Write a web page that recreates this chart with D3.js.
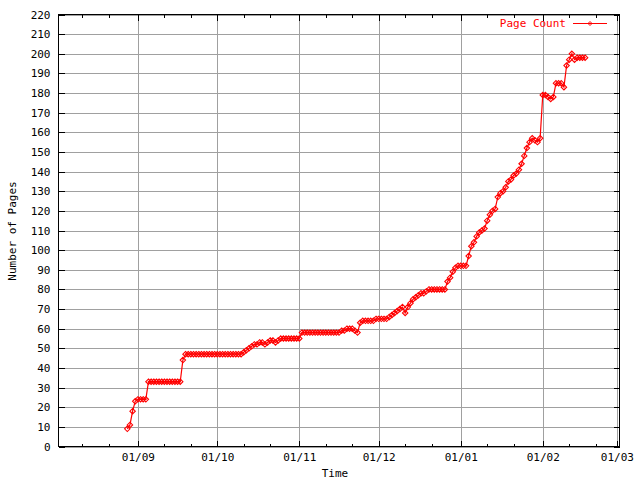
<!DOCTYPE html>
<html><head><meta charset="utf-8">
<script src="https://cdn.jsdelivr.net/npm/d3@7/dist/d3.min.js"></script>
<style>body{margin:0;background:#fff}svg{display:block}</style>
</head><body>
<svg id="c" width="640" height="480"></svg>
<script>
// ---- data ----
const dates = [
"2001-08-28","2001-08-29","2001-08-30","2001-08-31",
"2001-09-01","2001-09-02","2001-09-03","2001-09-04","2001-09-05","2001-09-06","2001-09-07","2001-09-08","2001-09-09","2001-09-10",
"2001-09-11","2001-09-12","2001-09-13","2001-09-14","2001-09-15","2001-09-16","2001-09-17","2001-09-18","2001-09-19","2001-09-20",
"2001-09-21","2001-09-22","2001-09-23","2001-09-24","2001-09-25","2001-09-26","2001-09-27","2001-09-28","2001-09-29","2001-09-30",
"2001-10-01","2001-10-02","2001-10-03","2001-10-04","2001-10-05","2001-10-06","2001-10-07","2001-10-08","2001-10-09","2001-10-10",
"2001-10-11","2001-10-12","2001-10-13","2001-10-14","2001-10-15","2001-10-16","2001-10-17","2001-10-18","2001-10-19","2001-10-20",
"2001-10-21","2001-10-22","2001-10-23","2001-10-24","2001-10-25","2001-10-26","2001-10-27","2001-10-28","2001-10-29","2001-10-30","2001-10-31",
"2001-11-01","2001-11-02","2001-11-03","2001-11-04","2001-11-05","2001-11-06","2001-11-07","2001-11-08","2001-11-09","2001-11-10",
"2001-11-11","2001-11-12","2001-11-13","2001-11-14","2001-11-15","2001-11-16","2001-11-17","2001-11-18","2001-11-19","2001-11-20",
"2001-11-21","2001-11-22","2001-11-23","2001-11-24","2001-11-25","2001-11-26","2001-11-27","2001-11-28","2001-11-29","2001-11-30",
"2001-12-01","2001-12-02","2001-12-03","2001-12-04","2001-12-05","2001-12-06","2001-12-07","2001-12-08","2001-12-09","2001-12-10",
"2001-12-11","2001-12-12","2001-12-13","2001-12-14","2001-12-15","2001-12-16","2001-12-17","2001-12-18","2001-12-19","2001-12-20",
"2001-12-21","2001-12-22","2001-12-23","2001-12-24","2001-12-25","2001-12-26","2001-12-27","2001-12-28","2001-12-29","2001-12-30","2001-12-31",
"2002-01-01","2002-01-02","2002-01-03","2002-01-04","2002-01-05","2002-01-06","2002-01-07","2002-01-08","2002-01-09","2002-01-10",
"2002-01-11","2002-01-12","2002-01-13","2002-01-14","2002-01-15","2002-01-16","2002-01-17","2002-01-18","2002-01-19","2002-01-20",
"2002-01-21","2002-01-22","2002-01-23","2002-01-24","2002-01-25","2002-01-26","2002-01-27","2002-01-28","2002-01-29","2002-01-30","2002-01-31",
"2002-02-01","2002-02-02","2002-02-03","2002-02-04","2002-02-05","2002-02-06","2002-02-07","2002-02-08","2002-02-09","2002-02-10",
"2002-02-11","2002-02-12","2002-02-13","2002-02-14","2002-02-15","2002-02-16","2002-02-17"
];
const pageCounts = [
9,11,18,23,
24,24,24,24,33,33,33,33,33,33,
33,33,33,33,33,33,33,44,47,47,
47,47,47,47,47,47,47,47,47,47,
47,47,47,47,47,47,47,47,47,47,
48,49,50,51,52,52,53,53,52,53,
54,54,53,54,55,55,55,55,55,55,55,
55,58,58,58,58,58,58,58,58,58,
58,58,58,58,58,58,59,59,60,60,
60,59,58,63,64,64,64,64,64,65,
65,65,65,65,66,67,68,69,70,71,
68,71,73,75,76,77,78,78,79,80,
80,80,80,80,80,80,84,86,89,91,92,
92,92,92,97,102,104,107,109,110,
111,115,118,120,121,127,129,130,132,135,
136,138,139,141,144,148,152,155,157,156,155,157,
179,179,178,177,178,185,185,185,183,194,
197,200,197,198,198,198,198
];
const seriesName = "Page Count";
const xMajorTicks = ["2001-09-01","2001-10-01","2001-11-01","2001-12-01","2002-01-01","2002-02-01","2002-03-01"];
const xMinorTicks = ["2001-08-11","2001-08-21","2001-09-11","2001-09-21","2001-10-11","2001-10-21","2001-11-11","2001-11-21",
                     "2001-12-11","2001-12-21","2002-01-11","2002-01-21","2002-02-11","2002-02-21"];
const xDomain = ["2001-08-02","2002-03-02"];
const yTicks = [0,10,20,30,40,50,60,70,80,90,100,110,120,130,140,150,160,170,180,190,200,210,220];
const xTitle = "Time";
const yTitle = "Number of Pages";

// ---- drawing ----
const parse = d3.timeParse("%Y-%m-%d");
const data = dates.map((d,i)=>({date:parse(d), value:pageCounts[i]}));
const L=58.5, R=619.5, T=14.5, B=446.5;
const FONT = "'DejaVu Sans Mono', monospace";
const svg = d3.select("#c");
svg.append("rect").attr("width",640).attr("height",480).attr("fill","#fff");

const x = d3.scaleTime().domain(xDomain.map(parse)).range([L,R]);
const y = d3.scaleLinear().domain([0,220]).range([B,T]);
const majors = xMajorTicks.map(parse), minors = xMinorTicks.map(parse);

// grid
const gridY = svg.append("g").attr("transform",`translate(${L},0)`)
  .call(d3.axisLeft(y).tickValues(yTicks).tickSize(-(R-L)).tickFormat(""));
const gridX = svg.append("g").attr("transform",`translate(0,${B})`)
  .call(d3.axisBottom(x).tickValues(majors).tickSize(-(B-T)).tickFormat(""));
[gridY,gridX].forEach(g=>{
  g.select(".domain").remove();
  g.selectAll("line").attr("stroke","#a0a0a0").attr("shape-rendering","crispEdges");
});

function styleAxis(g){
  g.select(".domain").remove();
  g.selectAll("line").attr("stroke","#000").attr("shape-rendering","crispEdges");
  g.selectAll("text").attr("font-family",FONT).attr("font-size","11px").attr("fill","#000");
  return g;
}
// axes with inward ticks
styleAxis(svg.append("g").attr("transform",`translate(${L},0)`)
  .call(d3.axisLeft(y).tickValues(yTicks).tickSizeInner(-6).tickSizeOuter(0).tickPadding(8)));
styleAxis(svg.append("g").attr("transform",`translate(${R},0)`)
  .call(d3.axisRight(y).tickValues(yTicks).tickSizeInner(-6).tickSizeOuter(0).tickFormat("")));
styleAxis(svg.append("g").attr("transform",`translate(0,${B})`)
  .call(d3.axisBottom(x).tickValues(majors).tickFormat(d3.timeFormat("%d/%m")).tickSizeInner(-6).tickSizeOuter(0).tickPadding(7)));
styleAxis(svg.append("g").attr("transform",`translate(0,${B})`)
  .call(d3.axisBottom(x).tickValues(minors).tickFormat("").tickSizeInner(-3).tickSizeOuter(0)));
styleAxis(svg.append("g").attr("transform",`translate(0,${T})`)
  .call(d3.axisTop(x).tickValues(majors).tickFormat("").tickSizeInner(-6).tickSizeOuter(0)));
styleAxis(svg.append("g").attr("transform",`translate(0,${T})`)
  .call(d3.axisTop(x).tickValues(minors).tickFormat("").tickSizeInner(-3).tickSizeOuter(0)));

// border
svg.append("rect").attr("x",L).attr("y",T).attr("width",R-L).attr("height",B-T)
  .attr("fill","none").attr("stroke","#000").attr("shape-rendering","crispEdges");

// series
const red = "#ff0000";
svg.append("path").datum(data)
  .attr("d", d3.line().x(d=>x(d.date)).y(d=>y(d.value)))
  .attr("fill","none").attr("stroke",red).attr("stroke-width",1.2);
const diamond = r => `M0,${-r}L${r},0L0,${r}L${-r},0Z`;
svg.append("g").selectAll("path").data(data).join("path")
  .attr("transform",d=>`translate(${x(d.date)},${y(d.value)})`)
  .attr("d",diamond(2.7)).attr("fill","none").attr("stroke",red).attr("stroke-width",1.1);

// titles
svg.append("text").attr("x",335).attr("y",477).attr("text-anchor","middle")
  .attr("font-family",FONT).attr("font-size","11px").text(xTitle);
svg.append("text").attr("transform","translate(16,231) rotate(-90)").attr("text-anchor","middle")
  .attr("font-family",FONT).attr("font-size","11px").text(yTitle);

// legend
svg.append("text").attr("x",566).attr("y",27).attr("text-anchor","end")
  .attr("font-family",FONT).attr("font-size","11px").attr("fill",red).text(seriesName);
svg.append("line").attr("x1",573).attr("x2",607).attr("y1",23.5).attr("y2",23.5)
  .attr("stroke",red).attr("stroke-width",1).attr("shape-rendering","crispEdges");
svg.append("path").attr("transform","translate(590,23.5)").attr("d",diamond(2))
  .attr("fill","none").attr("stroke",red);
</script>
</body></html>
